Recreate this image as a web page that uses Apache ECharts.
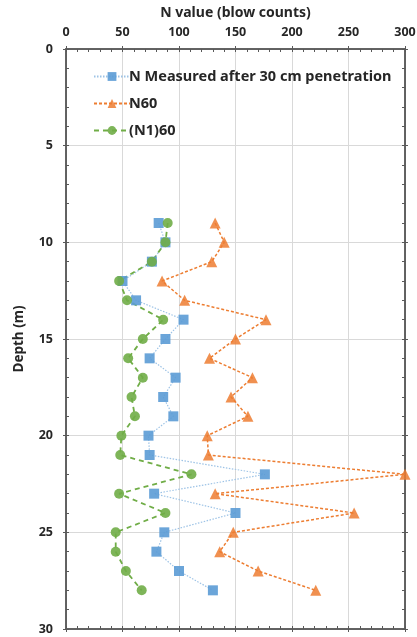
<!DOCTYPE html>
<html><head><meta charset="utf-8">
<script src="https://cdn.jsdelivr.net/npm/echarts@6/dist/echarts.min.js"></script>
<style>html,body{margin:0;padding:0;background:#fff}#c{width:417px;height:637px}</style>
</head><body><div id="c"></div>
<script>
const depths = [9,10,11,12,13,14,15,16,17,18,19,20,21,22,23,24,25,26,27,28];
const nMeasured = [82,88,76,50,62,104,88,74,97,86,95,73,74,176,78,150,87,80,100,130];
const n60 = [132,140,129,85,105,177,150,127,165,146,161,125,126,300,132,255,148,136,170,221];
const n160 = [90,88,76,47,54,86,68,55,68,58,61,49,48,111,47,88,44,44,53,67];
const xTicks = [0,50,100,150,200,250,300];
const yTicks = [0,5,10,15,20,25,30];
const names = ['N Measured after 30 cm penetration','N60','(N1)60'];

const font = 'Noto Sans';
const axisColor = '#595959';
const gridRect = {left:66, top:49, width:339, height:580, outerBoundsMode:'none', containLabel:false};
function pairs(vals){ return vals.map((v,i)=>[v, depths[i]]); }

function xAx(gi, pos, labels, inside, minor){
  return {type:'value', gridIndex:gi, position:pos, min:xTicks[0], max:xTicks[xTicks.length-1], interval:50,
    name: labels ? 'N value (blow counts)' : '', nameLocation:'middle', nameGap:29,
    nameTextStyle:{fontFamily:font, fontSize:14, fontWeight:'bold', color:'#262626'},
    axisLine:{show:true, onZero:false, lineStyle:{color:axisColor, width:1.5}},
    axisTick:{show:true, inside:inside, length:3, lineStyle:{color:axisColor}},
    minorTick:{show:minor, splitNumber:5, length:3, lineStyle:{color:axisColor}},
    axisLabel:{show:labels, margin:10, fontFamily:font, fontSize:12.5, fontWeight:'bold', color:'#262626'},
    splitLine:{show:labels, lineStyle:{color:'#d9d9d9', width:1}}};
}
function yAx(gi, pos, labels, inside, minor){
  return {type:'value', gridIndex:gi, position:pos, inverse:true, min:yTicks[0], max:yTicks[yTicks.length-1], interval:5,
    name: labels ? 'Depth (m)' : '', nameLocation:'middle', nameGap:40,
    nameTextStyle:{fontFamily:font, fontSize:13.5, fontWeight:'bold', color:'#262626'},
    axisLine:{show:true, onZero:false, lineStyle:{color:axisColor, width:1.5}},
    axisTick:{show:true, inside:inside, length:3, lineStyle:{color:axisColor}},
    minorTick:{show:minor, splitNumber:5, length:3, lineStyle:{color:axisColor}},
    axisLabel:{show:labels, margin:13, fontFamily:font, fontSize:12.5, fontWeight:'bold', color:'#262626'},
    splitLine:{show:labels, lineStyle:{color:'#d9d9d9', width:1}}};
}

const chart = echarts.init(document.getElementById('c'), null, {renderer:'canvas'});
chart.setOption({
  animation:false,
  backgroundColor:'#fff',
  grid:[Object.assign({}, gridRect), Object.assign({}, gridRect)],
  xAxis:[xAx(0,'top',true,false,false), xAx(0,'bottom',false,false,false), xAx(1,'top',false,true,true), xAx(1,'bottom',false,true,true)],
  yAxis:[yAx(0,'left',true,false,false), yAx(0,'right',false,false,false), yAx(1,'left',false,true,true), yAx(1,'right',false,true,true)],
  legend:{left:88, top:64, orient:'vertical', itemWidth:36, itemHeight:11, itemGap:12,
    textStyle:{fontFamily:font, fontSize:14.5, fontWeight:'bold', color:'#262626', padding:[0,0,0,-6]},
    data:names},
  series:[
    {name:names[0], type:'line', xAxisIndex:0, yAxisIndex:0, data:pairs(nMeasured),
     symbol:'rect', symbolSize:10, color:'#5B9BD5',
     lineStyle:{color:'#9DC3E6', width:1.2, type:[1.5,1.5]}, itemStyle:{color:'#5B9BD5', opacity:0.9}},
    {name:names[1], type:'line', xAxisIndex:0, yAxisIndex:0, data:pairs(n60),
     symbol:'triangle', symbolSize:11, color:'#ED7D31',
     lineStyle:{color:'#ED7D31', width:1.5, type:[3,2]}, itemStyle:{color:'#ED7D31', opacity:0.85}},
    {name:names[2], type:'line', xAxisIndex:0, yAxisIndex:0, data:pairs(n160),
     symbol:'circle', symbolSize:10, color:'#70AD47',
     lineStyle:{color:'#70AD47', width:1.8, type:[5,4]}, itemStyle:{color:'#70AD47', opacity:0.9}}
  ]
});
</script></body></html>
